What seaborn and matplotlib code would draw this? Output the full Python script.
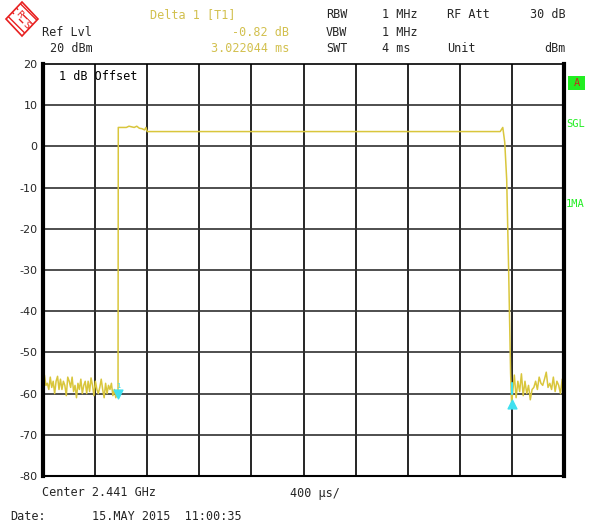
"""
Spectrum analyser zero-span capture (burst power vs time) redrawn with seaborn.
"""
import numpy as np
import pandas as pd
import seaborn as sns
import matplotlib.pyplot as plt
from matplotlib.patches import Polygon, Rectangle

sns.set_style("white")
plt.rcParams['font.family'] = ['DejaVu Sans Mono', 'DejaVu Sans']
plt.rcParams['hatch.color'] = '#e82020'
plt.rcParams['hatch.linewidth'] = 1.0

W, H = 589, 526

# sweep: 0..4 ms, 400 us/div
x_ticks = [0.0, 0.4, 0.8, 1.2, 1.6, 2.0, 2.4, 2.8, 3.2, 3.6, 4.0]
y_ticks = [20, 10, 0, -10, -20, -30, -40, -50, -60, -70, -80]

# noise floor before the burst (0 .. 0.57 ms)
noise_before = [-57.0, -55.5, -58.0, -57.5, -59.0, -56.0, -58.5, -57.0, -60.0, -57.0,
                -55.8, -59.0, -56.5, -59.0, -57.0, -58.0, -60.5, -56.0, -57.0, -58.5,
                -56.0, -59.5, -58.0, -61.0, -57.5, -59.0, -56.5, -60.0, -58.0, -57.0,
                -60.0, -57.0, -59.5, -56.2, -58.0, -60.5, -57.0, -59.0, -60.0, -58.5,
                -56.5, -59.0, -61.0, -57.5, -60.0, -58.0, -59.0, -57.5, -60.5, -59.0,
                -61.0, -60.0]
# burst edges and plateau
burst_time = [0.576, 0.578, 0.64, 0.66, 0.70, 0.72, 0.74, 0.76, 0.78, 0.79, 0.80,
              1.5, 2.5, 3.51, 3.53, 3.545, 3.56, 3.575, 3.59, 3.598]
burst_level = [-60.0, 4.6, 4.6, 4.9, 4.6, 4.9, 4.4, 4.3, 4.0, 4.6, 3.6,
               3.6, 3.6, 3.6, 4.6, 1.0, -8.0, -30.0, -55.0, -62.5]
# noise floor after the burst (3.60 .. 4.0 ms)
noise_after = [-60.0, -55.5, -61.0, -57.0, -59.5, -55.2, -60.5, -57.0, -60.0, -58.0,
               -61.5, -59.0, -58.5, -57.0, -59.0, -56.0, -57.5, -58.0, -56.5, -54.8,
               -58.5, -57.5, -59.0, -56.0, -59.5, -57.0, -58.0, -60.0, -56.5, -61.0]

t_before = np.linspace(0.0, 0.57, len(noise_before))
t_after = np.linspace(3.605, 4.0, len(noise_after))
trace = pd.DataFrame({
    'time_ms': np.concatenate([t_before, burst_time, t_after]),
    'level_dbm': np.concatenate([noise_before, burst_level, noise_after]),
})

markers_t = [0.576, 3.598]
markers_l = [-60.0, -62.5]

TRACE = '#d9c63c'
YEL = '#d2c04e'
GREEN = '#22ee22'
CYAN = '#3fe0f0'
RED = '#e82020'


def px(x, y):
    return x / W, 1 - y / H


fig = plt.figure(figsize=(W / 100, H / 100), dpi=100)
ax = fig.add_axes([43 / W, 1 - 476 / H, (564 - 43) / W, (476 - 64) / H])

sns.lineplot(data=trace, x='time_ms', y='level_dbm', ax=ax, color=TRACE,
             linewidth=1.1, sort=False, estimator=None)

ax.set_xlim(0, 4)
ax.set_ylim(-80, 20)
ax.set_xticks(x_ticks)
ax.set_yticks(y_ticks)
ax.set_xticklabels([])
ax.set_yticklabels([str(v) for v in y_ticks], fontsize=8, family='DejaVu Sans')
ax.tick_params(axis='y', length=3, width=1, pad=1, color='black')
ax.tick_params(axis='x', length=0)
ax.set_xlabel('')
ax.set_ylabel('')
for v in x_ticks[1:-1]:
    ax.axvline(v, color='black', linewidth=1.2, zorder=0)
for v in y_ticks[1:-1]:
    ax.axhline(v, color='#303030', linewidth=1.2, zorder=0)
ax.spines['left'].set_linewidth(3)
ax.spines['right'].set_linewidth(3)
ax.spines['top'].set_linewidth(1.2)
ax.spines['bottom'].set_linewidth(1.5)
for s in ax.spines.values():
    s.set_color('black')

# markers
ax.scatter([markers_t[0]], [markers_l[0]], marker='v', s=40, color=CYAN, zorder=5)
ax.scatter([markers_t[1]], [markers_l[1]], marker='^', s=40, color=CYAN, zorder=5)
ax.text(markers_t[0], markers_l[0] + 1.2, '1', color=CYAN, fontsize=5,
        ha='center', va='bottom')
ax.plot([markers_t[1], markers_t[1]], [-60, -57.5], color=CYAN, linewidth=1.5)

ax.text(0.03, 0.985, '1 dB Offset', transform=ax.transAxes, fontsize=8.5,
        va='top', ha='left', color='black')

fs = 8.5
# header
fig.text(*px(42, 32), 'Ref Lvl', fontsize=fs, va='center')
fig.text(*px(50, 48), '20 dBm', fontsize=fs, va='center')
fig.text(*px(150, 15), 'Delta 1 [T1]', fontsize=fs, va='center', color=YEL)
fig.text(*px(289, 32), '-0.82 dB', fontsize=fs, va='center', ha='right', color=YEL)
fig.text(*px(289, 48), '3.022044 ms', fontsize=fs, va='center', ha='right', color=YEL)
fig.text(*px(326, 15), 'RBW', fontsize=fs, va='center')
fig.text(*px(326, 32), 'VBW', fontsize=fs, va='center')
fig.text(*px(326, 48), 'SWT', fontsize=fs, va='center')
fig.text(*px(382, 15), '1 MHz', fontsize=fs, va='center')
fig.text(*px(382, 32), '1 MHz', fontsize=fs, va='center')
fig.text(*px(382, 48), '4 ms', fontsize=fs, va='center')
fig.text(*px(447, 15), 'RF Att', fontsize=fs, va='center')
fig.text(*px(447, 48), 'Unit', fontsize=fs, va='center')
fig.text(*px(566, 15), '30 dB', fontsize=fs, va='center', ha='right')
fig.text(*px(566, 48), 'dBm', fontsize=fs, va='center', ha='right')

# footer
fig.text(*px(42, 493), 'Center 2.441 GHz', fontsize=fs, va='center')
fig.text(*px(290, 493), '400 \u00b5s/', fontsize=fs, va='center')
fig.text(*px(10, 517), 'Date:', fontsize=fs, va='center')
fig.text(*px(92, 517), '15.MAY 2015  11:00:35', fontsize=fs, va='center')

# right side status
fig.patches.append(Rectangle(px(568, 90), 17 / W, 14 / H, transform=fig.transFigure,
                             facecolor=GREEN, edgecolor='none'))
fig.text(*px(576.5, 83), 'A', fontsize=7.5, va='center', ha='center', color='#c03020')
fig.text(*px(566, 124), 'SGL', fontsize=7.5, va='center', color=GREEN)
fig.text(*px(566, 204), '1MA', fontsize=7.5, va='center', color=GREEN)

# R&S logo
diamond = [px(22, 2), px(38, 19), px(22, 36), px(6, 19)]
fig.patches.append(Polygon(diamond, closed=True, transform=fig.transFigure,
                           facecolor='white', edgecolor=RED, linewidth=1.2,
                           hatch='\\\\\\\\', zorder=3))
fig.text(*px(19, 14), 'R', fontsize=6.5, color=RED, ha='center', va='center',
         family='DejaVu Sans', rotation=-45, zorder=4,
         bbox=dict(facecolor='white', edgecolor='none', pad=0.3))
fig.text(*px(26, 25), 'S', fontsize=6.5, color=RED, ha='center', va='center',
         family='DejaVu Sans', rotation=-45, zorder=4,
         bbox=dict(facecolor='white', edgecolor='none', pad=0.3))

fig.savefig('out.png', dpi=100)
